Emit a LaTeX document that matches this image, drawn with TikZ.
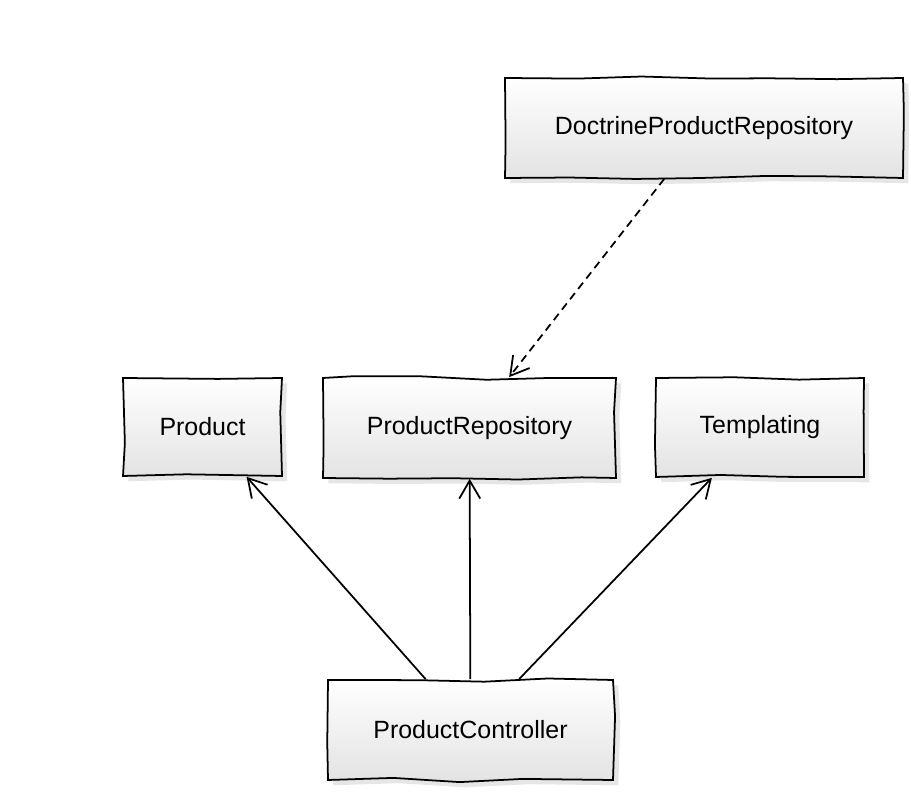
\documentclass[tikz,border=0pt]{standalone}
\usepackage{fontspec}
\setmainfont{Liberation Sans}
\usetikzlibrary{arrows.meta,shadows,decorations.pathmorphing}
\begin{document}
\begin{tikzpicture}[>={Straight Barb[length=3.6mm,width=4.2mm]}, line width=1pt,
  classbox/.style={draw, inner sep=0pt, top color=white, bottom color=black!11,
    drop shadow={opacity=0.2, shadow xshift=3pt, shadow yshift=-3pt},
    decorate, decoration={random steps, segment length=1.3cm, amplitude=1.2pt},
    font=\fontsize{14.2}{16}\selectfont}]
\pgfmathsetseed{7}
\useasboundingbox (0,0) rectangle (18.22,16);

\node[classbox, minimum width=7.96cm, minimum height=2cm] (doctrine) at (14.08,13.44){DoctrineProductRepository};
\node[classbox, minimum width=3.18cm, minimum height=1.96cm] (product) at (4.05,7.46){Product};
\node[classbox, minimum width=5.86cm, minimum height=2cm] (repo) at (9.39,7.44){ProductRepository};
\node[classbox, minimum width=4.16cm, minimum height=1.98cm] (templating) at (15.2,7.45){Templating};
\node[classbox, minimum width=5.7cm, minimum height=2cm] (controller) at (9.41,1.4){ProductController};

\draw[->, dash pattern=on 4.5pt off 3pt] (doctrine) -- (repo);
\draw[->] (controller) -- (product);
\draw[->] (controller) -- (repo);
\draw[->] (controller) -- (templating);
\end{tikzpicture}
\end{document}
